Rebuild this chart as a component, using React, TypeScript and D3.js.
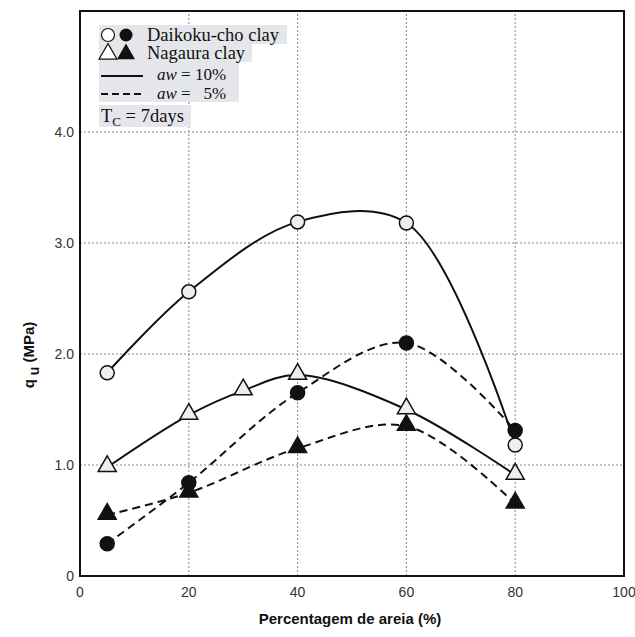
import React, { useEffect, useRef } from 'react';
import * as d3 from 'd3';

// x = sand percentage, y = qu (MPa)
const sandDaikoku = [5, 20, 40, 60, 80];
const quDaikoku10 = [1.83, 2.56, 3.19, 3.18, 1.18];
const quDaikoku5 = [0.29, 0.84, 1.65, 2.10, 1.31];
const sandNagaura10 = [5, 20, 30, 40, 60, 80];
const quNagaura10 = [0.98, 1.45, 1.67, 1.81, 1.50, 0.91];
const sandNagaura5 = [5, 20, 40, 60, 80];
const quNagaura5 = [0.55, 0.75, 1.15, 1.35, 0.65];
const xTicks = [0, 20, 40, 60, 80, 100];
const yTicks = [0, 1, 2, 3, 4];

export default function App() {
  const ref = useRef<SVGSVGElement>(null);

  useEffect(() => {
    const width = 635;
    const height = 637;
    const svg = d3.select(ref.current).attr('width', width).attr('height', height);
    svg.selectAll('*').remove();

    const x = d3.scaleLinear().domain([0, 100]).range([80, 624]);
    const y = d3.scaleLinear().domain([0, 5.09]).range([576, 11]);

    // grid
    const grid = svg.append('g').attr('stroke', '#888').attr('stroke-width', 1).attr('stroke-dasharray', '2,2');
    grid.selectAll('line.gx')
      .data(xTicks.filter(d => d > 0 && d < 100))
      .enter().append('line')
      .attr('x1', d => x(d)).attr('x2', d => x(d))
      .attr('y1', y(0)).attr('y2', y.range()[1]);
    grid.selectAll('line.gy')
      .data(yTicks.filter(d => d > 0))
      .enter().append('line')
      .attr('x1', x(0)).attr('x2', x(100))
      .attr('y1', d => y(d)).attr('y2', d => y(d));

    // frame
    svg.append('rect')
      .attr('x', x(0)).attr('y', y.range()[1])
      .attr('width', x(100) - x(0)).attr('height', y(0) - y.range()[1])
      .attr('fill', 'none').attr('stroke', '#111').attr('stroke-width', 2);

    // tick labels
    svg.append('g').selectAll('text')
      .data(xTicks).enter().append('text')
      .attr('x', d => x(d)).attr('y', 597)
      .attr('text-anchor', 'middle')
      .attr('font-family', 'Liberation Sans, Arial, sans-serif')
      .attr('font-size', 14).attr('fill', '#333')
      .text(d => String(d));
    svg.append('g').selectAll('text')
      .data(yTicks).enter().append('text')
      .attr('x', 74).attr('y', d => y(d) + 5)
      .attr('text-anchor', 'end')
      .attr('font-family', 'Liberation Sans, Arial, sans-serif')
      .attr('font-size', 14).attr('fill', '#333')
      .text(d => (d === 0 ? '0' : d.toFixed(1)));

    // axis titles
    svg.append('text')
      .attr('x', 350).attr('y', 624)
      .attr('text-anchor', 'middle')
      .attr('font-family', 'Liberation Sans, Arial, sans-serif')
      .attr('font-weight', 'bold').attr('font-size', 15).attr('fill', '#111')
      .text('Percentagem de areia (%)');
    const yt = svg.append('text')
      .attr('transform', 'translate(34,355) rotate(-90)')
      .attr('text-anchor', 'middle')
      .attr('font-family', 'Liberation Sans, Arial, sans-serif')
      .attr('font-weight', 'bold').attr('font-size', 15).attr('fill', '#111');
    yt.append('tspan').text('q');
    yt.append('tspan').attr('dy', 5).attr('font-size', 14).text(' u');
    yt.append('tspan').attr('dy', -5).text('  (MPa)');

    // curves
    const line = d3.line<[number, number]>()
      .x(d => x(d[0])).y(d => y(d[1]))
      .curve(d3.curveCatmullRom.alpha(0.5));
    const series = [
      { xs: sandDaikoku, ys: quDaikoku10, dash: null, marker: 'circle', fill: '#eee' },
      { xs: sandDaikoku, ys: quDaikoku5, dash: '8,5', marker: 'circle', fill: '#111' },
      { xs: sandNagaura10, ys: quNagaura10, dash: null, marker: 'triangle', fill: '#eee' },
      { xs: sandNagaura5, ys: quNagaura5, dash: '8,5', marker: 'triangle', fill: '#111' },
    ];
    const tri = d3.symbol().type(d3.symbolTriangle).size(140);
    series.forEach(s => {
      const pts = s.xs.map((v, i) => [v, s.ys[i]] as [number, number]);
      svg.append('path')
        .attr('d', line(pts))
        .attr('fill', 'none').attr('stroke', '#111').attr('stroke-width', 2)
        .attr('stroke-dasharray', s.dash);
      const g = svg.append('g');
      if (s.marker === 'circle') {
        g.selectAll('circle').data(pts).enter().append('circle')
          .attr('cx', d => x(d[0])).attr('cy', d => y(d[1])).attr('r', 7)
          .attr('fill', s.fill).attr('stroke', '#111').attr('stroke-width', 1.5);
      } else {
        g.selectAll('path').data(pts).enter().append('path')
          .attr('d', tri())
          .attr('transform', d => `translate(${x(d[0])},${y(d[1]) - 1})`)
          .attr('fill', s.fill).attr('stroke', '#111').attr('stroke-width', 1.5);
      }
    });

    // legend
    const lg = svg.append('g').attr('font-family', 'Liberation Serif, Times New Roman, serif').attr('font-size', 18.5).attr('fill', '#111');
    lg.append('rect').attr('x', 99).attr('y', 25).attr('width', 188).attr('height', 19).attr('fill', '#e4e6ea');
    lg.append('rect').attr('x', 99).attr('y', 44).attr('width', 153).attr('height', 18).attr('fill', '#e4e6ea');
    lg.append('rect').attr('x', 99).attr('y', 62).attr('width', 140).attr('height', 40).attr('fill', '#e4e6ea');
    lg.append('rect').attr('x', 99).attr('y', 105).attr('width', 92).attr('height', 22).attr('fill', '#e4e6ea');
    lg.append('circle').attr('cx', 108).attr('cy', 35).attr('r', 6.5).attr('fill', '#fff').attr('stroke', '#111').attr('stroke-width', 1.2);
    lg.append('circle').attr('cx', 126).attr('cy', 35).attr('r', 6.5).attr('fill', '#111');
    lg.append('text').attr('x', 147).attr('y', 41).text('Daikoku-cho clay');
    lg.append('path').attr('d', tri()).attr('transform', 'translate(108,54)').attr('fill', '#fff').attr('stroke', '#111').attr('stroke-width', 1.2);
    lg.append('path').attr('d', tri()).attr('transform', 'translate(126,54)').attr('fill', '#111');
    lg.append('text').attr('x', 147).attr('y', 59).text('Nagaura clay');
    lg.append('line').attr('x1', 101).attr('x2', 143).attr('y1', 76).attr('y2', 76).attr('stroke', '#111').attr('stroke-width', 2);
    lg.append('line').attr('x1', 101).attr('x2', 143).attr('y1', 94).attr('y2', 94).attr('stroke', '#111').attr('stroke-width', 2).attr('stroke-dasharray', '7,4');
    const t1 = lg.append('text').attr('x', 157).attr('y', 80).attr('font-size', 17);
    t1.append('tspan').attr('font-style', 'italic').text('aw');
    t1.append('tspan').text(' = 10%');
    const t2 = lg.append('text').attr('x', 157).attr('y', 99).attr('font-size', 17).attr('xml:space', 'preserve');
    t2.append('tspan').attr('font-style', 'italic').text('aw');
    t2.append('tspan').text(' =   5%');
    const t3 = lg.append('text').attr('x', 101).attr('y', 122);
    t3.append('tspan').text('T');
    t3.append('tspan').attr('dy', 4).attr('font-size', 13).text('C');
    t3.append('tspan').attr('dy', -4).text(' = 7days');
  }, []);

  return <svg ref={ref} style={{ position: 'absolute', left: 0, top: 0 }} />;
}
